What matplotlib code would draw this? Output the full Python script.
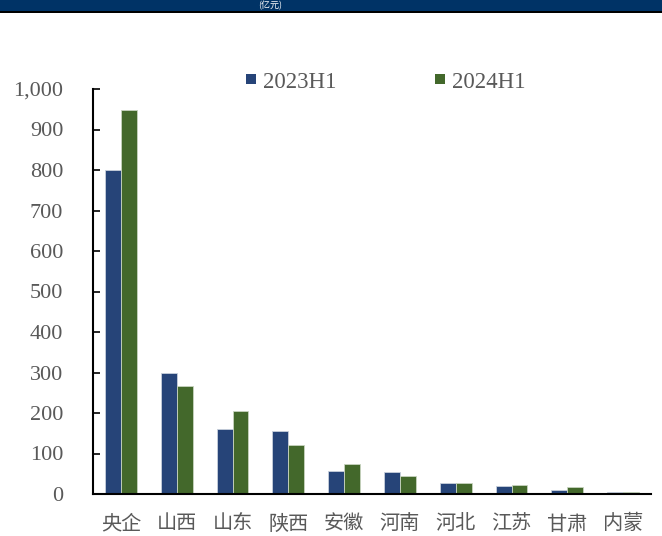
import matplotlib
matplotlib.use("Agg")
import matplotlib.pyplot as plt
import matplotlib.patches as mpatches
import matplotlib.ticker as mticker
from matplotlib.lines import Line2D
import numpy as np

# data (亿元)
regions = ['央企', '山西', '山东', '陕西', '安徽', '河南', '河北', '江苏', '甘肃', '内蒙']
h1_2023 = [800, 299, 161, 155, 58, 54, 26, 19, 9, 6]
h1_2024 = [947, 266, 205, 121, 73, 44, 26, 22, 17, 6]
series_names = ['2023H1', '2024H1']

blue = '#264478'
green = '#43682B'
grey = '#595959'

fig = plt.figure(figsize=(6.62, 5.36), dpi=100)

# header band at the top
fig.patches.append(mpatches.Rectangle((0, 1 - 11/536), 1, 11/536, transform=fig.transFigure,
                                      facecolor='#003366', edgecolor='none', zorder=0))
fig.patches.append(mpatches.Rectangle((0, 1 - 13/536), 1, 2/536, transform=fig.transFigure,
                                      facecolor='black', edgecolor='none', zorder=0))
fig.text(270/662, 1 - 5.5/536, '(亿元)', color='white', fontsize=6.5, ha='center', va='center',
         family=['Noto Sans CJK SC', 'DejaVu Sans'])

ax = fig.add_axes([93/662, 42/536, 558/662, 405/536])

x = np.arange(len(regions))
w = 0.286
ax.bar(x - w/2, h1_2023, width=w, color=blue, edgecolor='#c8d0dc', linewidth=0.6)
ax.bar(x + w/2, h1_2024, width=w, color=green, edgecolor='#c8d4c0', linewidth=0.6)

ax.set_xlim(-0.5, len(regions) - 0.5)
ax.set_ylim(0, 1000)
ax.yaxis.set_major_locator(mticker.MultipleLocator(100))
ax.yaxis.set_major_formatter(mticker.FuncFormatter(lambda v, p: f'{int(v):,}'))

for s in ['top', 'right']:
    ax.spines[s].set_visible(False)
for s in ['left', 'bottom']:
    ax.spines[s].set_linewidth(1.5)
    ax.spines[s].set_color('black')

ax.tick_params(axis='y', direction='in', length=5, width=1.2, labelsize=16,
               labelcolor=grey, pad=21.5)
for lab in ax.get_yticklabels():
    lab.set_family(['Liberation Serif'])
ax.set_xticks(x)
ax.set_xticklabels(regions, family=['Noto Sans CJK SC', 'DejaVu Sans'], fontsize=14.5, color=grey)
ax.tick_params(axis='x', length=0, pad=14)

handles = [Line2D([], [], linestyle='none', marker='s', markersize=7.3, color=c, markeredgewidth=0)
           for c in (blue, green)]
leg = fig.legend(handles, series_names, loc='center left', bbox_to_anchor=(246/662, 1 - 82/536),
                 ncol=2, frameon=False, prop={'family': 'Liberation Serif', 'size': 16.5},
                 borderpad=0, borderaxespad=0, handlelength=0.45, handletextpad=0.3,
                 columnspacing=4.3)
for t in leg.get_texts():
    t.set_color(grey)

fig.savefig('out.png', dpi=100)
